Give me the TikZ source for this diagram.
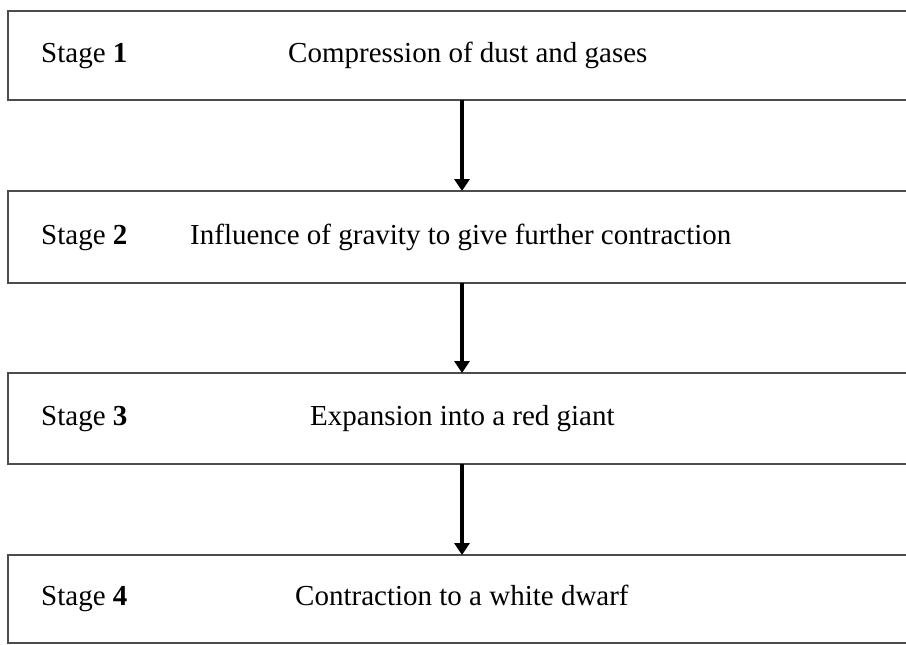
\documentclass[tikz,border=0pt]{standalone}
\usepackage{fontspec}
\setmainfont{Liberation Serif}
\usetikzlibrary{arrows.meta}
\begin{document}
\begin{tikzpicture}[x=1pt,y=-1pt,
  stagebox/.style={draw=black!70,line width=1.6pt},
  lbl/.style={anchor=base west,inner sep=0pt,font=\fontsize{29}{34}\selectfont},
  flow/.style={line width=3.5pt,-{Triangle[width=15pt,length=12pt]}}]
\useasboundingbox (0,0) rectangle (906,645);
\begin{scope}
\clip (0,0) rectangle (906,645);
\draw[stagebox] (8,11) rectangle (915,100);
\draw[stagebox] (8,191) rectangle (915,283);
\draw[stagebox] (8,373) rectangle (915,464);
\draw[stagebox] (8,555) rectangle (915,643);
\end{scope}
\coordinate (b1) at (462,100);
\coordinate (t2) at (462,191);
\coordinate (b2) at (462,283);
\coordinate (t3) at (462,373);
\coordinate (b3) at (462,464);
\coordinate (t4) at (462,555);
\node[lbl] (s1) at (41,62) {Stage \textbf{1}};
\node[lbl] (d1) at (288,62) {Compression of dust and gases};
\node[lbl] (s2) at (41,244) {Stage \textbf{2}};
\node[lbl] (d2) at (190,244) {Influence of gravity to give further contraction};
\node[lbl] (s3) at (41,425) {Stage \textbf{3}};
\node[lbl] (d3) at (310,425) {Expansion into a red giant};
\node[lbl] (s4) at (41,605) {Stage \textbf{4}};
\node[lbl] (d4) at (295,605) {Contraction to a white dwarf};
\draw[flow] (b1) -- (t2);
\draw[flow] (b2) -- (t3);
\draw[flow] (b3) -- (t4);
\end{tikzpicture}
\end{document}
